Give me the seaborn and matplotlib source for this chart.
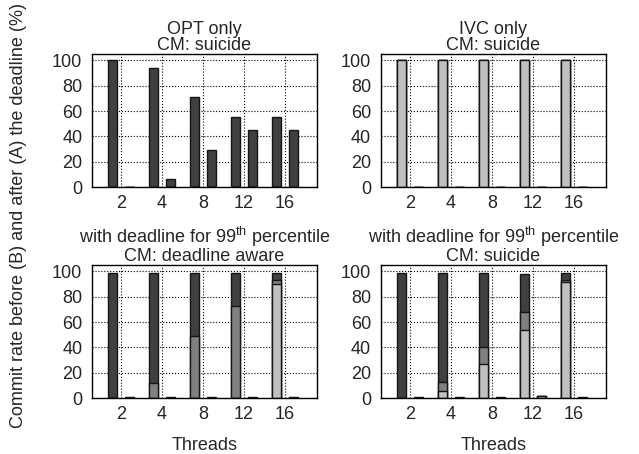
import numpy as np
import pandas as pd
import matplotlib.pyplot as plt
import seaborn as sns

# Data
threads = ['2', '4', '8', '12', '16']

# OPT only, CM: suicide
opt_before_dark = [100, 94, 71, 55, 55]
opt_after_dark = [0, 6, 29, 45, 45]

# IVC only, CM: suicide
ivc_before_light = [100, 100, 100, 100, 100]
ivc_after_light = [0, 0, 0, 0, 0]

# with deadline for 99th percentile, CM: deadline aware
da_before_light = [0, 0, 0, 0, 90]
da_before_mid = [0, 12, 49, 72.5, 3]
da_before_dark = [99, 87, 50, 26, 5.7]
da_after_dark = [1, 1, 1, 1.2, 1]

# with deadline for 99th percentile, CM: suicide
su_before_light = [0, 6, 27, 54, 92]
su_before_mid = [0, 7, 13.5, 14, 1]
su_before_dark = [99, 86, 58.5, 30, 5.7]
su_after_light = [0, 0, 0, 1.5, 0]
su_after_dark = [1, 1, 1, 0, 1]

zeros = [0, 0, 0, 0, 0]
colors = {'light': '#c0c0c0', 'mid': '#808080', 'dark': '#404040'}

sns.set_style('white')
plt.rcParams['font.family'] = ['Liberation Sans', 'DejaVu Sans']
plt.rcParams['mathtext.fontset'] = 'custom'
plt.rcParams['mathtext.rm'] = 'Liberation Sans'
plt.rcParams['mathtext.it'] = 'Liberation Sans'
FS = 13


def draw(ax, before, after, title):
    # before / after: (light, mid, dark) segment lists, stacked bottom-up
    b = np.array(before, dtype=float)
    a = np.array(after, dtype=float)
    tops_b = [b.sum(axis=0), b[:2].sum(axis=0), b[0]]
    tops_a = [a.sum(axis=0), a[:2].sum(axis=0), a[0]]
    for tb, ta, c in zip(tops_b, tops_a, ['dark', 'mid', 'light']):
        df = pd.DataFrame({
            'threads': threads * 2,
            'when': ['B'] * 5 + ['A'] * 5,
            'value': list(tb) + list(ta),
        })
        sns.barplot(data=df, x='threads', y='value', hue='when',
                    order=threads, hue_order=['B', 'A'],
                    palette={'B': colors[c], 'A': colors[c]},
                    errorbar=None, gap=0.45, edgecolor='#151515',
                    linewidth=1.0, legend=False, ax=ax)
    ax.set_xlim(-0.71, 4.78)
    ax.set_ylim(0, 105)
    ax.set_yticks([0, 20, 40, 60, 80, 100])
    ax.set_axisbelow(True)
    ax.grid(True, linestyle=':', color='black', linewidth=0.8)
    ax.tick_params(axis='x', length=0, pad=6, labelsize=FS)
    ax.tick_params(axis='y', length=0, pad=7, labelsize=FS)
    for s in ax.spines.values():
        s.set_color('black')
        s.set_linewidth(1.0)
    ax.set_title(title, fontsize=FS, pad=3, linespacing=0.95)
    ax.set_ylabel('')
    ax.set_xlabel('')


fig = plt.figure(figsize=(6.39, 4.54), dpi=100)
w, h = 0.352, 0.293
ax1 = fig.add_axes([0.144, 0.588, w, h])
ax2 = fig.add_axes([0.596, 0.588, w, h])
ax3 = fig.add_axes([0.144, 0.123, w, h])
ax4 = fig.add_axes([0.596, 0.123, w, h])

draw(ax1, [zeros, zeros, opt_before_dark], [zeros, zeros, opt_after_dark],
     'OPT only\nCM: suicide')
draw(ax2, [ivc_before_light, zeros, zeros], [ivc_after_light, zeros, zeros],
     'IVC only\nCM: suicide')
draw(ax3, [da_before_light, da_before_mid, da_before_dark],
     [zeros, zeros, da_after_dark],
     'with deadline for 99$^{\\rm th}$ percentile\nCM: deadline aware')
draw(ax4, [su_before_light, su_before_mid, su_before_dark],
     [su_after_light, zeros, su_after_dark],
     'with deadline for 99$^{\\rm th}$ percentile\nCM: suicide')

for ax in (ax3, ax4):
    ax.set_xlabel('Threads', fontsize=FS, labelpad=10)

fig.text(0.029, 0.526, 'Commit rate before (B) and after (A) the deadline (%)',
         rotation=90, ha='center', va='center', fontsize=FS)

fig.savefig('out.png', dpi=100)
